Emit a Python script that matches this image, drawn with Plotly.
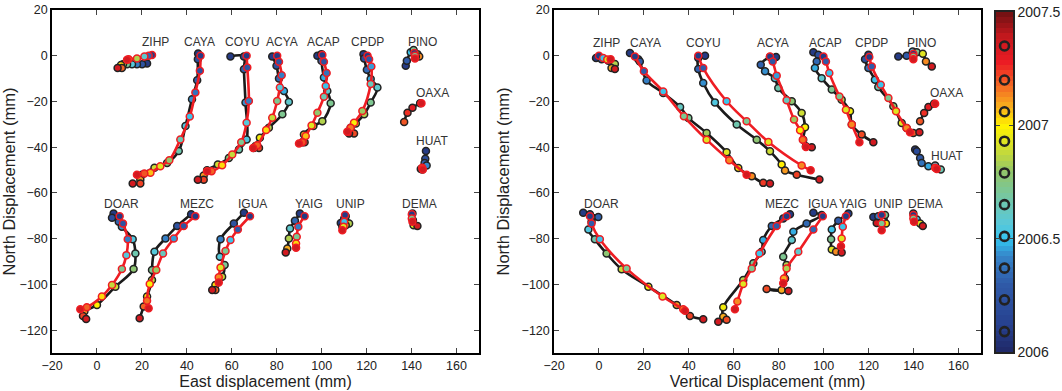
import numpy as np
import plotly.graph_objects as go

STATIONS = ["ZIHP", "CAYA", "COYU", "ACYA", "ACAP", "CPDP", "PINO", "OAXA", "HUAT",
            "DOAR", "MEZC", "IGUA", "YAIG", "UNIP", "DEMA"]
EPOCHS = [2006.09, 2006.23, 2006.37, 2006.51, 2006.65, 2006.79, 2006.93, 2007.06, 2007.2, 2007.35]
CB_TICKS = [2006, 2006.5, 2007, 2007.5]
X_TICKS = list(range(-20, 161, 20))
Y_TICKS = list(range(-120, 21, 20))

# time spans of the markers for stations with partial records
OBS_SPAN = {"OAXA": (2007.1, 2007.35), "HUAT": (2006.09, 2006.75)}
MOD_SPAN = {"OAXA": (2007.35, 2007.35), "HUAT": (2007.2, 2007.35)}

# ---------------- Left panel: East vs North ----------------
LEFT_LABELS = {"ZIHP": (26, 5.9), "CAYA": (45.6, 5.9), "COYU": (64.6, 5.9), "ACYA": (82.5, 5.9),
               "ACAP": (100.6, 5.9), "CPDP": (120.4, 5.9), "PINO": (144.9, 5.9), "OAXA": (149.3, -16.5),
               "HUAT": (148.9, -37.2), "DOAR": (11.1, -64.7), "MEZC": (44.6, -64.7), "IGUA": (69.1, -64.7),
               "YAIG": (94.4, -64.7), "UNIP": (112.6, -64.7), "DEMA": (143.4, -64.7)}

LEFT_OBS = {
    "ZIHP": [(22.3, -3.4), (20.1, -3.7), (17.8, -3.7), (15.6, -3.7), (13.4, -3.7), (11.6, -3.7), (10.7, -4.1), (11.1, -5.4), (9.2, -5.4)],
    "CAYA": [(45, 1.0), (44.9, -1.5), (44.6, -10.7), (42.3, -19), (39.4, -30.7), (36.4, -41.7), (31.2, -46.9), (25.6, -49), (20.1, -52), (19.3, -54.2), (19.3, -55.9), (15.9, -55.9)],
    "COYU": [(59.4, -0.3), (65.4, -0.3), (65.4, -5.9), (66.1, -20.5), (66.6, -36.6), (63.2, -41), (58.7, -44.7), (53.8, -47.6), (49, -50.1), (47.5, -52.4), (47.5, -54.2), (44.9, -54.2)],
    "ACYA": [(78, -0.3), (79.9, -4.4), (81, -10), (83.2, -15.4), (85.4, -20.2), (82.5, -25.6), (76.5, -31.5), (72.5, -35.9), (70.6, -39.5), (72.1, -40.3), (69.8, -40.3)],
    "ACAP": [(98.1, 0), (99.9, 0.7), (99.9, -2.2), (101, -9.5), (102.5, -15.4), (104, -20.8), (100.3, -28.6), (96.3, -30.7), (92.1, -34.4), (92.4, -37.8), (91.4, -37.8)],
    "CPDP": [(118.6, 0.7), (118.9, -1.2), (120.1, -6.1), (121.8, -10.2), (124.8, -13.9), (121.8, -20.5), (118.9, -25.6), (115.2, -29.6), (112.9, -31.5), (114.4, -34), (112.2, -34)],
    "PINO": [(137.4, -4.4), (137.9, -2.2), (139.6, 1.5), (140.9, 2.5), (142.6, 0.7), (143.4, -0.3), (141.9, -0.3)],
    "OAXA": [(136.7, -29), (138.2, -24.9), (140.4, -22.7), (143.8, -20.8)],
    "HUAT": [(146.4, -41.7), (146.1, -45.1), (145.8, -46.9), (146.7, -48), (144.1, -49.5), (144.8, -49.8)],
    "DOAR": [(7.4, -69), (6.7, -70.9), (9.7, -72.6), (11.1, -74.8), (15.9, -80.3), (17.1, -86.5), (16.3, -93.3), (8.2, -101), (0, -109), (-5.6, -111.9), (-6.2, -113.8), (-4.8, -115.1)],
    "MEZC": [(41.9, -69.3), (35.7, -74.5), (30.5, -79.9), (25.6, -85.7), (24.5, -93.7), (24.5, -98.1), (22.3, -105.3), (20.8, -109.7), (19, -114.8)],
    "IGUA": [(65.4, -68.7), (60.9, -73.4), (55, -80.3), (54.7, -87.9), (56.8, -91.5), (55.7, -96.6), (52.7, -100.3), (52.7, -102.4), (51.3, -102.4)],
    "YAIG": [(90.3, -69), (88.1, -72.2), (85.9, -75.6), (85.4, -79.9), (84.7, -84.3), (84, -86)],
    "UNIP": [(108.5, -73.1), (110, -71.2), (110.7, -70.2), (112.2, -73.4), (110.7, -74.1), (109.2, -74.8)],
    "DEMA": [(140.4, -69), (140.6, -71.9), (140.9, -74.1), (142.6, -74.5)],
}

LEFT_MOD = {
    "ZIHP": [(24.5, 0.3), (23, 0), (21.1, -0.3), (17.8, -1.2), (14.1, -1.5), (13.4, -1.8)],
    "CAYA": [(46.1, 0), (45.8, -6.6), (43.8, -16.1), (41.3, -26.6), (37.1, -36.6), (32.2, -45.7), (28.2, -48.3), (23.8, -51.2), (21.1, -51.5), (17.8, -52)],
    "COYU": [(66.6, 0), (66.9, -5.1), (67.6, -19.8), (66.6, -29.3), (64.2, -37.8), (60.2, -43.2), (55.7, -47.9), (51, -50.5), (49, -50.5)],
    "ACYA": [(80.2, 0), (81, -2.6), (82.2, -8.5), (81.4, -13.9), (80.2, -19.8), (78, -27.1), (75.3, -32.5), (71.3, -39.2), (69.5, -40.3)],
    "ACAP": [(100.3, 0.3), (101, -2.6), (102.2, -7.6), (101.8, -13.2), (101, -17.9), (98.1, -24.9), (95.5, -30.5), (92.9, -35.1), (91.4, -37.8), (89.9, -38.4)],
    "CPDP": [(120.4, 0), (121.1, -1.5), (122.1, -4.7), (121.8, -12.4), (118.1, -24.2), (114.4, -29.3), (112.9, -31.5), (111.4, -33.2)],
    "PINO": [(141.2, 1.2), (141.5, 0), (141.5, -1.2)],
    "OAXA": [(144.4, -20.8)],
    "HUAT": [(144.7, -49), (145, -49.8)],
    "DOAR": [(10.1, -70.2), (11.6, -73.4), (13.7, -80.3), (13.1, -87.2), (11.1, -93.3), (6.7, -100.3), (2.2, -105.3), (-4.5, -110), (-7.4, -110.9)],
    "MEZC": [(43.8, -70.2), (38.6, -74.5), (34.2, -79.9), (29.4, -86.5), (26.4, -93.7), (23.5, -99.8), (22.3, -107.2), (23, -110.4)],
    "IGUA": [(68.1, -70.2), (62.7, -76), (59.4, -80.6), (57.2, -85.4), (55, -92.6), (54.2, -96.9), (54.2, -99.2)],
    "YAIG": [(92.4, -70.2), (89.6, -74.8), (88.9, -79.2), (88.6, -82.1), (88.6, -84)],
    "UNIP": [(110.4, -69.7), (110, -72.6), (109.7, -74.8), (109.2, -76.3)],
    "DEMA": [(140.1, -69.3), (140.1, -71.2), (140.4, -72.6)],
}

# ---------------- Right panel: Vertical vs North ----------------
RIGHT_LABELS = {"ZIHP": (3.4, 5.5), "CAYA": (20.5, 5.5), "COYU": (46.4, 5.5), "ACYA": (77.3, 5.5),
                "ACAP": (100.6, 5.5), "CPDP": (121.4, 5.5), "PINO": (143.6, 5.5), "OAXA": (154.7, -16.3),
                "HUAT": (154.7, -44), "DOAR": (1.2, -64.7), "MEZC": (81.3, -64.9), "IGUA": (99.4, -64.9),
                "YAIG": (113.0, -64.9), "UNIP": (128.8, -64.9), "DEMA": (145.1, -64.9)}

RIGHT_OBS = {
    "ZIHP": [(-1.3, -1), (1.2, -1.5), (4.2, -2.2), (7.1, -3.6), (5.6, -5.4), (7.1, -5.8)],
    "CAYA": [(13.8, 1.2), (17.5, -1.5), (18.2, -2.5), (21.2, -10.8), (28.6, -16.3), (36.1, -22.4), (39.8, -27.2), (47.9, -33.8), (56.8, -42.2), (62, -49.1), (68, -52.7), (73.1, -55.6), (76.1, -55.9)],
    "COYU": [(47.2, 0), (44.2, -1), (44.2, -5.8), (46.4, -11.9), (51.6, -20.4), (61.3, -30.1), (70.2, -36.7), (76.1, -41.8), (81.3, -47.6), (82.8, -50.2), (88, -52), (98.1, -54.1)],
    "ACYA": [(78.8, -0.6), (76.1, -0.6), (72, -3.9), (73.9, -6.8), (78.3, -9.8), (79.8, -14.1), (85.8, -19.9), (90.2, -25), (91.7, -31.3), (90.9, -36.7), (92.1, -39.6), (94.7, -40)],
    "ACAP": [(95.4, 1.5), (97.6, 0.4), (96.9, -2.5), (96.1, -5.4), (99.1, -9.8), (103.6, -14.8), (108, -19.2), (111.7, -24.3), (112.5, -30.1), (116.9, -34.5), (122.1, -37.8)],
    "CPDP": [(119.9, 0.4), (118.4, -1.5), (119.9, -5.4), (122.8, -10.5), (124.3, -13.7), (131, -22.1), (134.7, -29.4), (136.9, -31.6), (139.9, -33.8), (142.6, -33.5)],
    "PINO": [(133.2, -0.3), (136.9, 0), (139.6, 1.9), (141.4, 1.5), (144.1, 0.9), (145.5, -2.5), (148.1, -4.7)],
    "OAXA": [(142.9, -28.7), (144.7, -25), (146.6, -22.4), (149.1, -21)],
    "HUAT": [(140.7, -41), (141.4, -41.8), (142.9, -44.7), (143.6, -46.9), (146.6, -48.3), (149.6, -48), (152.1, -49.8)],
    "DOAR": [(-7, -68.7), (-4, -69.3), (-0.3, -70.5), (-3.3, -72.6), (-4.7, -76), (-1.8, -80.3), (3.4, -86.5), (10.1, -93.4), (22, -101), (34.6, -109), (40.5, -113.8), (46.4, -115.2)],
    "MEZC": [(85, -69.3), (82, -71.2), (76.9, -74.5), (73.1, -80.6), (72.4, -85.7), (68.7, -90.8), (64.2, -98.1), (55.3, -110), (55.3, -114.1), (56.8, -115.5), (53.1, -116.3)],
    "IGUA": [(95.4, -68.7), (99.1, -69.7), (92.4, -73.4), (86.5, -77), (85.8, -80.6), (82, -87.9), (83.5, -91.5), (82.8, -97.4), (81.3, -102.4), (74.6, -102), (84.3, -102.9)],
    "YAIG": [(111, -69), (106.5, -72.2), (103.6, -76), (103.3, -80.3), (103.6, -84.7), (105.5, -85.7), (108, -86)],
    "UNIP": [(122.1, -70.5), (124.3, -70.2), (127.3, -69.7), (127.7, -73.4), (123.6, -73.1)],
    "DEMA": [(139.9, -69), (141.4, -71.6), (142.9, -73.4), (144.1, -74.5)],
}

RIGHT_MOD = {
    "ZIHP": [(0, 0), (1.9, -1), (3.7, -1.7), (5.2, -1.5)],
    "CAYA": [(16, -0.3), (20, -6.8), (28.6, -15.6), (37.8, -26.5), (47.9, -36.7), (58, -45.7), (65.7, -52)],
    "COYU": [(44.2, 0), (46.4, -5.4), (56.8, -19.9), (65.7, -28.7), (75.4, -37.7), (90.2, -48), (94.2, -50.1)],
    "ACYA": [(76.1, -0.3), (77.3, -2.5), (79.1, -8.7), (83.5, -19.5), (86.8, -27.9), (89.5, -32.6), (90.7, -36.7), (92.1, -39.9)],
    "ACAP": [(99.9, -0.3), (101, -2.5), (102.5, -7.6), (107, -17.8), (109.9, -23.6), (112.5, -30.1), (115.9, -37.8)],
    "CPDP": [(120.3, -0.6), (121.4, -4.7), (125.4, -12.7), (128.8, -18.5), (132.2, -24.3), (136.9, -31.6), (138.4, -33.5)],
    "PINO": [(139.9, 0.9), (139.9, -0.3), (139.9, -1.5)],
    "OAXA": [(149.6, -21)],
    "HUAT": [(149.6, -49), (150.3, -49.5)],
    "DOAR": [(-4, -70.2), (-3.3, -73.4), (0.4, -80.3), (12.3, -93.1), (28.3, -105.3), (37.5, -110.9), (38.3, -111.5)],
    "MEZC": [(83.5, -70.2), (79.1, -74.5), (71.4, -86.5), (68, -93), (64.2, -99.8), (61.6, -107.5), (60.5, -110.9)],
    "IGUA": [(99.6, -70.2), (95.4, -76), (88.7, -85.7), (83.5, -93), (82.3, -97.4), (82, -99.5)],
    "YAIG": [(109.9, -70.2), (108.5, -74.8), (108, -79.9), (107.7, -83.3)],
    "UNIP": [(125.8, -69.7), (125.8, -73.4), (125.8, -76.3)],
    "DEMA": [(139.9, -69.7), (139.9, -71.2), (140.2, -72.6)],
}

# ---------------- styling ----------------
COLORSCALE = [
    [0.0, "#1f2766"], [0.08, "#27418f"], [0.2, "#2f5aa8"], [0.28, "#3583c8"],
    [0.33, "#33c3ef"], [0.38, "#5ac8d8"], [0.45, "#72c7a8"], [0.53, "#93c66a"],
    [0.6, "#d2df2e"], [0.665, "#fff200"], [0.72, "#f9b01c"], [0.78, "#f36c24"],
    [0.85, "#ec1c24"], [0.93, "#c2181d"], [1.0, "#6c1012"],
]
FONT = "Liberation Sans, Arial, sans-serif"
BLACK_LINE = "#1a1a1a"
RED_LINE = "#ee1d23"
CMIN, CMAX = CB_TICKS[0], CB_TICKS[-1]


def marker_times(n, span):
    lo, hi = span if span else (EPOCHS[0], EPOCHS[-1])
    if n == 1:
        return [hi]
    sub = [e for e in EPOCHS if lo - 1e-9 <= e <= hi + 1e-9]
    if len(sub) < 2:
        sub = [lo, hi]
    return list(np.interp(np.linspace(0, 1, n), np.linspace(0, 1, len(sub)), sub))


fig = go.Figure()


def add_panel(obs, mod, labels, xa, ya):
    for st in STATIONS:
        for pts, lc, mlc, span in ((obs[st], BLACK_LINE, "#222222", OBS_SPAN.get(st)),
                                   (mod[st], RED_LINE, RED_LINE, MOD_SPAN.get(st))):
            xs = [p[0] for p in pts]
            ys = [p[1] for p in pts]
            if len(pts) > 1:
                fig.add_trace(go.Scatter(x=xs, y=ys, mode="lines", xaxis=xa, yaxis=ya,
                                         line=dict(color=lc, width=2.6, shape="spline", smoothing=1.0),
                                         hoverinfo="skip", showlegend=False))
            fig.add_trace(go.Scatter(x=xs, y=ys, mode="markers", xaxis=xa, yaxis=ya,
                                     marker=dict(size=7, color=marker_times(len(pts), span),
                                                 colorscale=COLORSCALE, cmin=CMIN, cmax=CMAX,
                                                 line=dict(color=mlc, width=1.5)),
                                     showlegend=False))
        lx, ly = labels[st]
        fig.add_annotation(x=lx, y=ly, xref=xa, yref=ya, text=st, showarrow=False,
                           font=dict(family=FONT, size=12, color="#333333"))


add_panel(LEFT_OBS, LEFT_MOD, LEFT_LABELS, "x", "y")
add_panel(RIGHT_OBS, RIGHT_MOD, RIGHT_LABELS, "x2", "y2")

# colour bar drawn as a heatmap ramp with epoch circles
bands = np.linspace(CMIN, CMAX, 65)
centers = (bands[:-1] + bands[1:]) / 2
fig.add_trace(go.Heatmap(x=[0], y=centers, z=[[c] for c in centers], colorscale=COLORSCALE,
                         zmin=CMIN, zmax=CMAX, showscale=False, xaxis="x3", yaxis="y3", hoverinfo="skip"))
fig.add_trace(go.Scatter(x=[0] * len(EPOCHS), y=EPOCHS, mode="markers", xaxis="x3", yaxis="y3",
                         marker=dict(symbol="circle-open", size=9, color="#222222", line=dict(width=2.6)),
                         showlegend=False, hoverinfo="skip"))

W, H = 1062, 391


def px(xp):
    return xp / W


def py(yp):
    return 1 - yp / H


ydom = [py(353), py(10)]
axis_common = dict(range=[-20, 170], tickvals=X_TICKS, ticks="inside", ticklen=5, tickwidth=1,
                   showline=True, linecolor="black", linewidth=1.5, mirror="ticks", showgrid=False,
                   zeroline=False, automargin=False, tickfont=dict(family=FONT, size=12.5, color="#222"))
yaxis_common = dict(range=[-130, 20], tickvals=Y_TICKS, ticks="inside", ticklen=5, tickwidth=1,
                    showline=True, linecolor="black", linewidth=1.5, mirror="ticks", showgrid=False,
                    zeroline=False, automargin=False, tickfont=dict(family=FONT, size=12.5, color="#222"), domain=ydom,
                    title=dict(text="North Displacement (mm)", font=dict(family=FONT, size=16.5, color="#222"), standoff=8))

fig.update_layout(
    width=W, height=H, margin=dict(l=0, r=0, t=0, b=0, autoexpand=False),
    paper_bgcolor="white", plot_bgcolor="white", showlegend=False,
    xaxis=dict(axis_common, domain=[px(52), px(479)], anchor="y",
               title=dict(text="East displacement (mm)", font=dict(family=FONT, size=16, color="#222"), standoff=1)),
    yaxis=dict(yaxis_common, anchor="x"),
    xaxis2=dict(axis_common, domain=[px(554), px(981)], anchor="y2",
                title=dict(text="Vertical Displacement (mm)", font=dict(family=FONT, size=16, color="#222"), standoff=1)),
    yaxis2=dict(yaxis_common, anchor="x2"),
    xaxis3=dict(domain=[px(996), px(1013)], range=[-0.5, 0.5], anchor="y3", showticklabels=False,
                ticks="", showgrid=False, zeroline=False, automargin=False,
                showline=True, linecolor="#222", linewidth=1.5, mirror=True),
    yaxis3=dict(domain=[py(352), py(12)], range=[CMIN, CMAX], anchor="x3", side="right",
                tickvals=CB_TICKS, ticktext=[str(t) for t in CB_TICKS], ticks="inside", ticklen=4,
                showgrid=False, zeroline=False, automargin=False,
                showline=True, linecolor="#222", linewidth=1.5, mirror="ticks",
                tickfont=dict(family=FONT, size=14, color="#222")),
)

# remove the page's default body margin so the figure sits at the window's corner
POST = "document.body.style.margin='0';document.body.style.overflow='hidden';"
fig.write_html("out.html", post_script=POST, config={"displayModeBar": False})
